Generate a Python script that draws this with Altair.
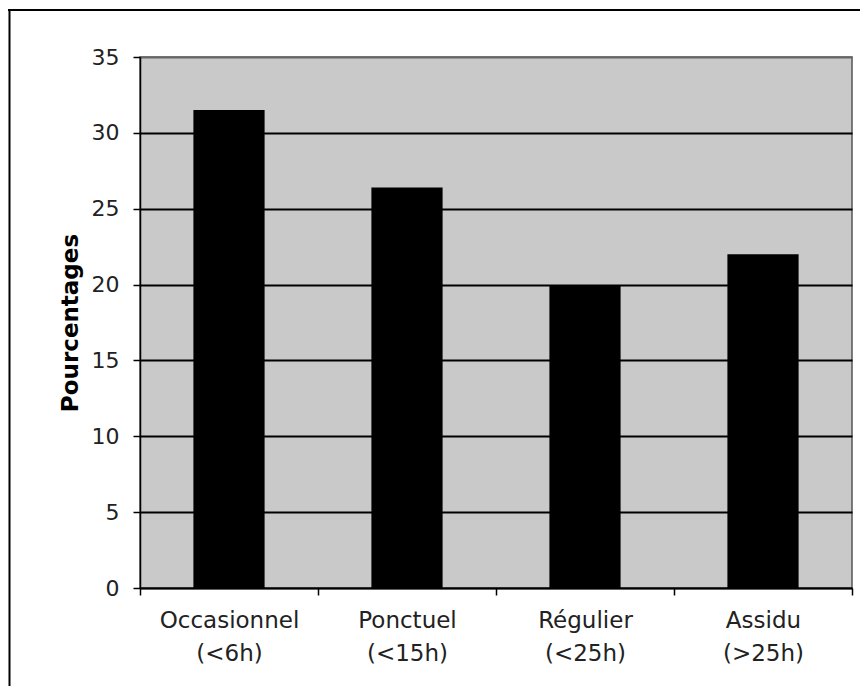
import altair as alt
import pandas as pd

categories = ["Occasionnel (<6h)", "Ponctuel (<15h)", "Régulier (<25h)", "Assidu (>25h)"]
values = [31.5, 26.4, 19.9, 22.0]
y_ticks = [0, 5, 10, 15, 20, 25, 30, 35]
y_title = "Pourcentages"

df = pd.DataFrame({"cat": categories, "pct": values})
FONT = "DejaVu Sans"

bars = alt.Chart(df).mark_bar(color="black", width={"band": 0.4}).encode(
    x=alt.X(
        "cat:N",
        sort=categories,
        title=None,
        scale=alt.Scale(paddingInner=0, paddingOuter=0),
        axis=alt.Axis(
            labelAngle=0,
            labelExpr="split(datum.label, ' ')",
            tickBand="extent",
            ticks=True,
            tickSize=7,
            tickColor="black",
            tickWidth=1.5,
            domainColor="black",
            domainWidth=1.5,
            labelFontSize=23,
            labelColor="#222",
            labelLineHeight=33,
            labelPadding=14,
            labelFont=FONT,
            grid=False,
        ),
    ),
    y=alt.Y(
        "pct:Q",
        scale=alt.Scale(domain=[0, 35], nice=False),
        axis=alt.Axis(
            values=y_ticks,
            title=y_title,
            titleFont=FONT,
            titleFontSize=23,
            titleFontWeight="bold",
            titleColor="black",
            titlePadding=9,
            grid=True,
            gridColor={"condition": {"test": "datum.value === 35", "value": "#666"}, "value": "black"},
            gridWidth=1.8,
            tickSize=7,
            tickColor="black",
            tickWidth=1.5,
            domainColor="black",
            domainWidth=1.5,
            labelFont=FONT,
            labelFontSize=22,
            labelColor="#222",
            labelPadding=14,
        ),
    ),
)

frame_top = alt.Chart(pd.DataFrame({"f": [0]})).mark_rule(color="black", strokeWidth=2).encode(
    x=alt.value(-132), x2=alt.value(730), y=alt.value(-47)
)
frame_left = alt.Chart(pd.DataFrame({"f": [0]})).mark_rule(color="black", strokeWidth=2).encode(
    x=alt.value(-130.5), y=alt.value(-48), y2=alt.value(640)
)

chart = (
    alt.layer(bars, frame_top, frame_left)
    .properties(
        width=712,
        height=531,
        padding={"left": 132, "top": 49, "right": 8, "bottom": 98},
        autosize=alt.AutoSizeParams(type="none"),
        background="white",
    )
    .configure_view(fill="#c9c9c9", stroke="#555", strokeWidth=1.5)
)

chart.save("out.html", embed_options={"renderer": "svg", "actions": False})
